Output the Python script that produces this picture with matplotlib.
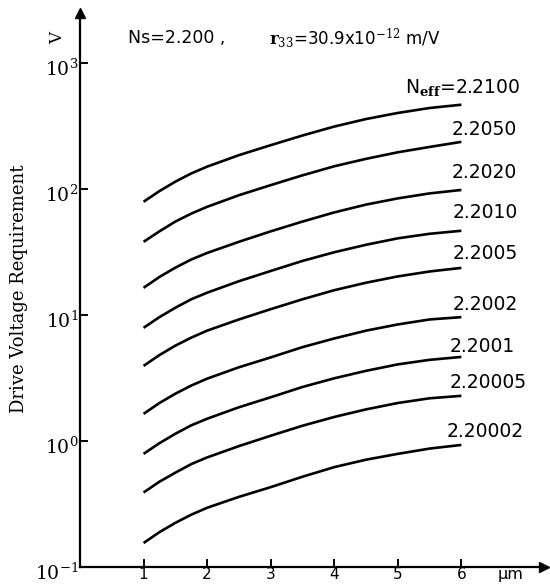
import matplotlib
matplotlib.use("Agg")
import matplotlib.pyplot as plt
import matplotlib.transforms as mtransforms
from matplotlib.ticker import FixedLocator

plt.rcParams['mathtext.fontset'] = 'dejavuserif'

# Waveguide width (um)
width_um = [1, 1.25, 1.5, 1.75, 2, 2.5, 3, 3.5, 4, 4.5, 5, 5.5, 6]

neff_labels = ["2.2100", "2.2050", "2.2020", "2.2010", "2.2005",
               "2.2002", "2.2001", "2.20005", "2.20002"]

v_22100 = [79, 96, 114, 132.5, 150, 185, 222, 265, 312, 358, 400, 438, 465]
v_22050 = [38, 46, 55, 63.6, 72, 89, 107, 128, 151, 173, 195, 215, 236]
v_22020 = [16.4, 20, 23.7, 27.5, 31, 38, 46, 55, 65, 75, 84, 92, 98]
v_22010 = [7.9, 9.6, 11.4, 13.3, 15, 18.5, 22.3, 26.8, 31.4, 36, 40.5, 44, 46.5]
v_22005 = [3.94, 4.8, 5.7, 6.6, 7.5, 9.2, 11.1, 13.3, 15.7, 18, 20.2, 22.1, 23.6]
v_22002 = [1.64, 2.0, 2.37, 2.75, 3.12, 3.84, 4.6, 5.55, 6.5, 7.5, 8.4, 9.2, 9.6]
v_22001 = [0.79, 0.96, 1.14, 1.33, 1.5, 1.85, 2.22, 2.68, 3.14, 3.6, 4.05, 4.4, 4.64]
v_220005 = [0.39, 0.475, 0.56, 0.655, 0.74, 0.91, 1.1, 1.32, 1.55, 1.78, 2.0, 2.18, 2.28]
v_220002 = [0.155, 0.189, 0.224, 0.26, 0.295, 0.36, 0.43, 0.52, 0.62, 0.71, 0.79, 0.87, 0.93]

series = [v_22100, v_22050, v_22020, v_22010, v_22005,
          v_22002, v_22001, v_220005, v_220002]

# label anchor positions (data coords)
label_x = [6.93, 5.85, 5.85, 5.86, 5.86, 5.86, 5.82, 5.82, 5.77]
label_y = [631, 294, 136, 64.4, 30.5, 12.2, 5.57, 2.89, 1.18]

x_ticks = [1, 2, 3, 4, 5, 6]
y_ticks = [0.1, 1, 10, 100, 1000]
y_tick_exp = [-1, 0, 1, 2, 3]

fig = plt.figure(figsize=(5.5, 5.86), dpi=100)
ax = fig.add_axes([80/550, 19/586, 464/550, 554/586])
ax.set_yscale('log')
ax.set_xlim(0, 7.3)
ax.set_ylim(0.1, 10**3.395)

for vals in series:
    ax.plot(width_um, vals, color='black', lw=1.9, solid_capstyle='butt',
            solid_joinstyle='round')

for i, (lab, lx, ly) in enumerate(zip(neff_labels, label_x, label_y)):
    if i == 0:
        ax.text(lx, ly, r'N$_{\mathbf{eff}}$=' + lab, ha='right', va='center',
                fontsize=13.5, family='DejaVu Sans')
    else:
        ax.text(lx, ly, lab, ha='left', va='center', fontsize=13.5,
                family='DejaVu Sans')

for s in ['top', 'right']:
    ax.spines[s].set_visible(False)
for s in ['left', 'bottom']:
    ax.spines[s].set_linewidth(1.6)

ax.plot(1, 0, '>k', transform=ax.transAxes, clip_on=False, ms=7)
ax.plot(0, 1, '^k', transform=ax.transAxes, clip_on=False, ms=7)

ax.xaxis.set_major_locator(FixedLocator(x_ticks))
ax.set_xticklabels([str(t) for t in x_ticks], fontsize=11, family='DejaVu Sans')
ax.yaxis.set_major_locator(FixedLocator(y_ticks))
ax.yaxis.set_minor_locator(FixedLocator([]))
ax.set_yticklabels([r'$10^{%d}$' % e for e in y_tick_exp], fontsize=13.5)
ax.tick_params(axis='x', direction='in', length=6, width=1.4, pad=0)
ax.tick_params(axis='y', direction='in', length=6, width=1.4, pad=1)

offset = mtransforms.ScaledTranslation(0, -4/100, fig.dpi_scale_trans)
for lbl in ax.get_yticklabels():
    lbl.set_transform(lbl.get_transform() + offset)

ax.text(6.78, 0.1, 'μm', ha='center', va='top', fontsize=11.5,
        family='DejaVu Sans', transform=ax.transData)
ax.text(-0.35, 10**3.2, 'V', rotation=90, ha='center', va='center',
        fontsize=12, family='DejaVu Serif')
ax.set_ylabel('Drive Voltage Requirement', family='DejaVu Serif',
              fontsize=13)
ax.yaxis.set_label_coords(-0.112, 0.502)

ax.text(0.75, 10**3.2, 'Ns=2.200 ,', ha='left', va='center', fontsize=12.5,
        family='DejaVu Sans')
ax.text(2.98, 10**3.2, r'$\mathbf{r}_{33}$=30.9x10$^{-12}$ m/V', ha='left',
        va='center', fontsize=12, family='DejaVu Sans')

fig.savefig('out.png', dpi=100)
